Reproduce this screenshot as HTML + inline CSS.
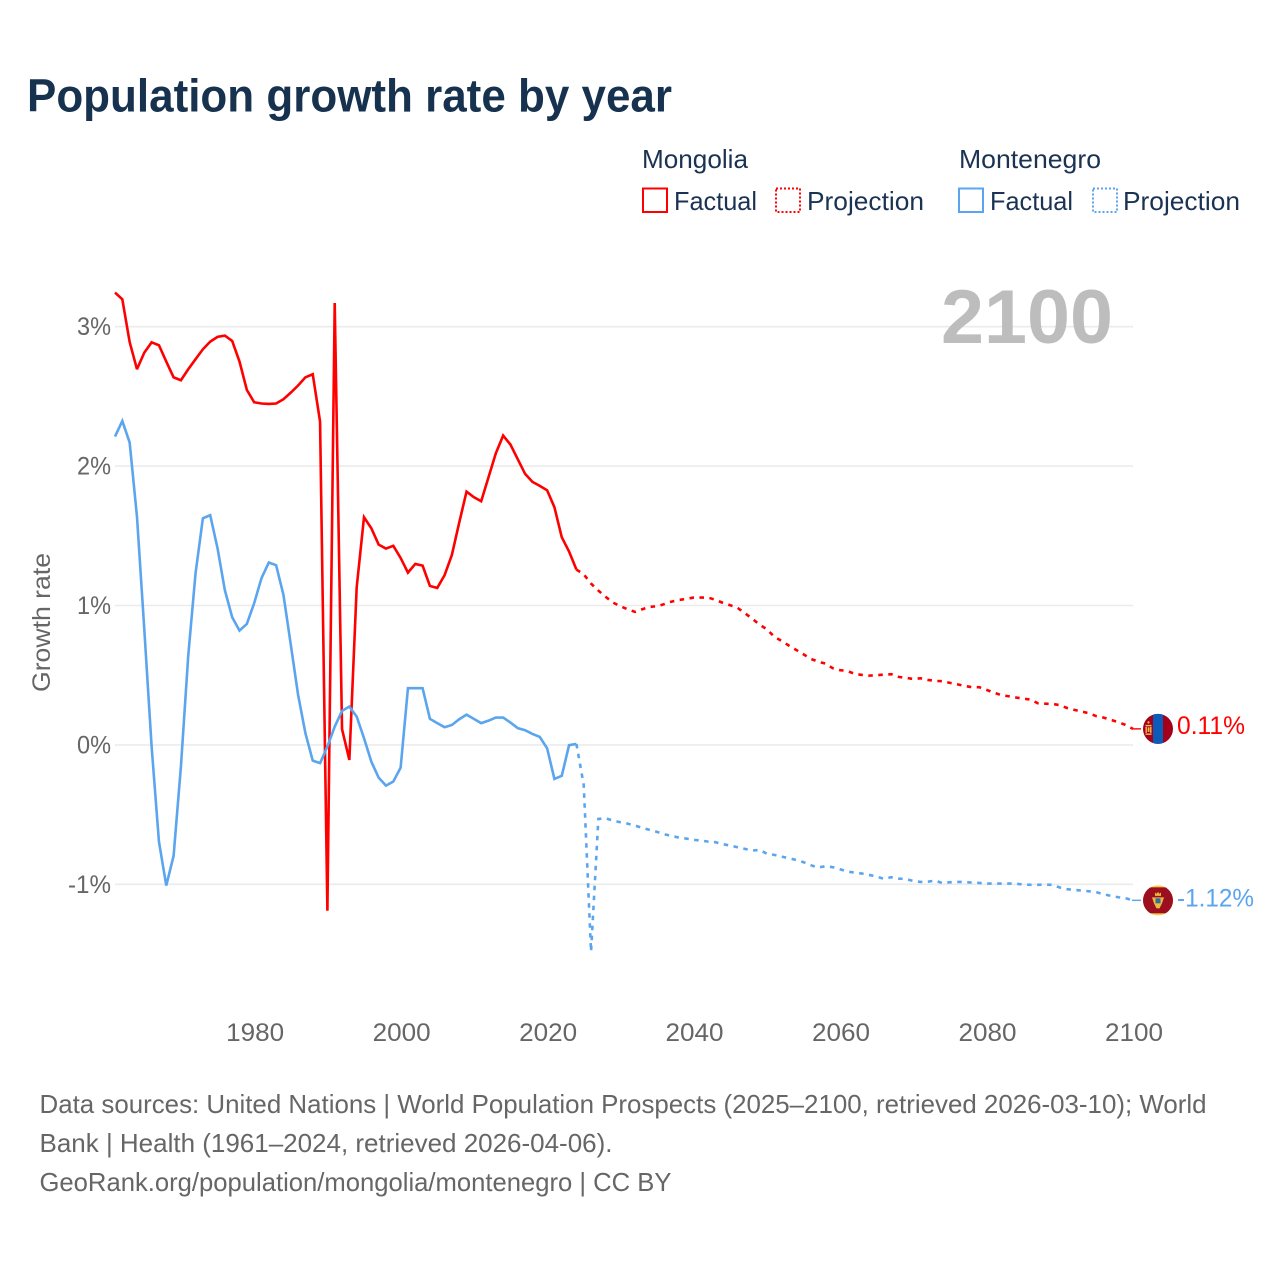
<!DOCTYPE html>
<html lang="en">
<head>
<meta charset="utf-8">
<title>Population growth rate by year</title>
<style>
html,body{margin:0;padding:0;background:#fff;width:1280px;height:1280px;overflow:hidden}
svg{display:block;font-family:"Liberation Sans",sans-serif}
</style>
</head>
<body>
<svg id="chart" xmlns="http://www.w3.org/2000/svg" width="1280" height="1280" viewBox="0 0 1280 1280">
  <rect x="0" y="0" width="1280" height="1280" fill="#fff"/>
  <text x="27" y="111.5" font-size="46" font-weight="700" fill="#17324f" textLength="645" lengthAdjust="spacingAndGlyphs">Population growth rate by year</text>

  <g font-size="26" fill="#1b3352">
    <text x="642" y="168" textLength="106" lengthAdjust="spacingAndGlyphs">Mongolia</text>
    <text x="959" y="168" textLength="142" lengthAdjust="spacingAndGlyphs">Montenegro</text>
    <rect x="643" y="188.5" width="24" height="23.5" fill="none" stroke="#ff0000" stroke-width="2"/>
    <text x="674" y="210" textLength="83" lengthAdjust="spacingAndGlyphs">Factual</text>
    <rect x="776" y="188.5" width="24" height="23.5" fill="none" stroke="#ff0000" stroke-width="2" stroke-dasharray="2 2"/>
    <text x="807" y="210" textLength="117" lengthAdjust="spacingAndGlyphs">Projection</text>
    <rect x="959" y="188.5" width="24" height="23.5" fill="none" stroke="#5ba5ef" stroke-width="2"/>
    <text x="990" y="210" textLength="83" lengthAdjust="spacingAndGlyphs">Factual</text>
    <rect x="1093" y="188.5" width="24" height="23.5" fill="none" stroke="#5ba5ef" stroke-width="2" stroke-dasharray="2 2"/>
    <text x="1123" y="210" textLength="117" lengthAdjust="spacingAndGlyphs">Projection</text>
  </g>

  <g id="grid"></g>
  <g id="yticks" font-size="25" fill="#666" text-anchor="end"></g>
  <g id="xticks" font-size="25" fill="#666" text-anchor="middle"></g>
  <text transform="translate(50 622.5) rotate(-90)" font-size="25" fill="#666" text-anchor="middle" textLength="139" lengthAdjust="spacingAndGlyphs">Growth rate</text>
  <text x="941" y="343" font-size="76" font-weight="700" fill="#bdbdbd" textLength="172" lengthAdjust="spacingAndGlyphs">2100</text>

  <g id="series"></g>

  <g id="flag-mongolia">
    <clipPath id="clip-mn"><circle cx="0" cy="0" r="15"/></clipPath>
    <g clip-path="url(#clip-mn)">
      <rect x="-15" y="-16" width="31" height="32" fill="#a4001c"/>
      <rect x="-5" y="-16" width="10" height="32" fill="#0b5cb8"/>
    </g>
    <g fill="#f2c04a">
      <circle cx="-9.5" cy="-6.5" r="1.1"/>
      <rect x="-12.5" y="-4" width="6" height="1.4"/>
      <rect x="-12.5" y="-2" width="1.4" height="6"/>
      <rect x="-7.9" y="-2" width="1.4" height="6"/>
      <rect x="-10.3" y="-1.5" width="1.8" height="4.5"/>
      <rect x="-12.5" y="4.6" width="6" height="1.4"/>
    </g>
  </g>
  <g id="flag-montenegro">
    <clipPath id="clip-me"><circle cx="0" cy="0" r="15"/></clipPath>
    <g clip-path="url(#clip-me)">
      <rect x="-16" y="-16" width="32" height="32" fill="#f4cf45"/>
      <rect x="-16" y="-13" width="32" height="26" fill="#9c0f20"/>
    </g>
    <g fill="#e9bb3c">
      <path d="M-3 -4.5 L-3 -8 L-1.5 -6.5 L0 -8.5 L1.5 -6.5 L3 -8 L3 -4.5 Z"/>
      <path d="M-6 -3 L6 -3 L4 3 L1.5 8 L-1.5 8 L-4 3 Z"/>
    </g>
    <rect x="-2.5" y="-2" width="5" height="5" fill="#2f6f9f"/>
  </g>
  <g id="endlabels" font-size="25"></g>

  <g font-size="26" fill="#666">
    <text x="39.5" y="1113" textLength="1167" lengthAdjust="spacingAndGlyphs">Data sources: United Nations | World Population Prospects (2025–2100, retrieved 2026-03-10); World</text>
    <text x="39.5" y="1152" textLength="573" lengthAdjust="spacingAndGlyphs">Bank | Health (1961–2024, retrieved 2026-04-06).</text>
    <text x="39.5" y="1191" textLength="632" lengthAdjust="spacingAndGlyphs">GeoRank.org/population/mongolia/montenegro | CC BY</text>
  </g>
</svg>
<script>
const factualStartYear = 1961;
const projectionStartYear = 2024;
const finalYear = 2100;

const mongoliaFactual = [3.245,3.197,2.89,2.695,2.814,2.888,2.867,2.75,2.637,2.616,2.695,2.767,2.838,2.893,2.927,2.936,2.898,2.75,2.547,2.458,2.449,2.446,2.449,2.48,2.527,2.578,2.637,2.659,2.32,-1.19,3.17,0.113,-0.108,1.13,1.633,1.554,1.437,1.408,1.428,1.341,1.236,1.298,1.286,1.14,1.126,1.217,1.363,1.595,1.817,1.777,1.748,1.92,2.092,2.219,2.154,2.049,1.944,1.887,1.858,1.827,1.705,1.49,1.387,1.258];

const mongoliaProjection = [1.258,1.224,1.157,1.107,1.062,1.021,0.995,0.973,0.954,0.973,0.99,0.995,1.01,1.028,1.04,1.047,1.057,1.057,1.057,1.04,1.019,1.002,0.983,0.945,0.906,0.863,0.83,0.777,0.746,0.713,0.682,0.65,0.617,0.598,0.583,0.55,0.536,0.531,0.509,0.502,0.497,0.5,0.504,0.507,0.488,0.481,0.473,0.478,0.466,0.459,0.457,0.445,0.435,0.423,0.414,0.414,0.395,0.375,0.357,0.349,0.34,0.332,0.325,0.299,0.296,0.294,0.285,0.265,0.251,0.239,0.227,0.206,0.196,0.179,0.163,0.143,0.115];

const montenegroFactual = [2.212,2.324,2.169,1.638,0.83,-0.012,-0.694,-1.009,-0.796,-0.156,0.64,1.232,1.626,1.648,1.411,1.11,0.916,0.82,0.868,1.016,1.196,1.308,1.289,1.076,0.72,0.359,0.084,-0.113,-0.131,-0.012,0.131,0.244,0.275,0.203,0.048,-0.12,-0.235,-0.292,-0.263,-0.163,0.407,0.407,0.407,0.187,0.156,0.127,0.143,0.184,0.217,0.187,0.156,0.174,0.196,0.196,0.16,0.12,0.105,0.079,0.057,-0.024,-0.244,-0.222,-0.002,0.007];

const montenegroProjection = [0.007,-0.287,-1.483,-0.531,-0.526,-0.543,-0.555,-0.565,-0.579,-0.595,-0.61,-0.624,-0.641,-0.653,-0.665,-0.672,-0.681,-0.686,-0.694,-0.698,-0.712,-0.722,-0.734,-0.746,-0.758,-0.753,-0.78,-0.789,-0.801,-0.813,-0.825,-0.841,-0.863,-0.88,-0.87,-0.877,-0.892,-0.909,-0.916,-0.923,-0.933,-0.945,-0.961,-0.949,-0.959,-0.963,-0.976,-0.983,-0.981,-0.973,-0.992,-0.985,-0.983,-0.983,-0.988,-0.99,-0.995,-0.995,-0.995,-0.995,-0.995,-1.002,-1.004,-1.004,-1.002,-1.004,-1.023,-1.035,-1.04,-1.045,-1.05,-1.057,-1.071,-1.083,-1.093,-1.1,-1.115];

const xTickYears = [1980,2000,2020,2040,2060,2080,2100];
const xTickLabels = ["1980","2000","2020","2040","2060","2080","2100"];
const yTickValues = [3,2,1,0,-1];
const yTickLabels = ["3%","2%","1%","0%","-1%"];
const mongoliaEndLabel = "0.11%";
const montenegroEndLabel = "-1.12%";

const NS = "http://www.w3.org/2000/svg";
const plotLeft = 115, plotRight = 1133;
const zeroY = 744.9, unitY = 139.4;
const RED = "#ff0000", BLUE = "#5ba5ef";

function xScale(year){
  return plotLeft + (year - factualStartYear) * (plotRight - plotLeft) / (finalYear - factualStartYear);
}
function yScale(value){
  return zeroY - value * unitY;
}
function make(tag, attrs){
  const el = document.createElementNS(NS, tag);
  for (const k in attrs) el.setAttribute(k, attrs[k]);
  return el;
}
function linePath(values, startYear){
  return values.map(function(v, i){
    return (i ? "L" : "M") + xScale(startYear + i).toFixed(2) + " " + yScale(v).toFixed(2);
  }).join(" ");
}

const grid = document.getElementById("grid");
const yticks = document.getElementById("yticks");
yTickValues.forEach(function(v, i){
  const line = make("line", {x1: plotLeft, x2: plotRight, y1: yScale(v), y2: yScale(v), stroke: "#ebebeb", "stroke-width": 1.6});
  
  
  grid.appendChild(line);
  const label = make("text", {x: 111, y: yScale(v) + 8.5, textLength: yTickLabels[i].length > 2 ? 43 : 34, lengthAdjust: "spacingAndGlyphs"});
  
  
  label.textContent = yTickLabels[i];
  yticks.appendChild(label);
});

const xticks = document.getElementById("xticks");
xTickYears.forEach(function(year, i){
  const label = make("text", {x: xScale(year) + 1, y: 1041, textLength: 58, lengthAdjust: "spacingAndGlyphs"});
  
  
  label.textContent = xTickLabels[i];
  xticks.appendChild(label);
});

const series = document.getElementById("series");
const lineWidth = 2.6;
const dashPattern = "4.5 5.5";

const mnFactualLine = make("path", {d: linePath(mongoliaFactual, factualStartYear), fill: "none", stroke: RED, "stroke-width": lineWidth, "stroke-linejoin": "miter", "stroke-miterlimit": 3});


series.appendChild(mnFactualLine);

const meFactualLine = make("path", {d: linePath(montenegroFactual, factualStartYear), fill: "none", stroke: BLUE, "stroke-width": lineWidth, "stroke-linejoin": "miter", "stroke-miterlimit": 3});


series.appendChild(meFactualLine);

const mnProjectionLine = make("path", {d: linePath(mongoliaProjection, projectionStartYear), fill: "none", stroke: RED, "stroke-width": lineWidth, "stroke-dasharray": dashPattern});


series.appendChild(mnProjectionLine);

const meProjectionLine = make("path", {d: linePath(montenegroProjection, projectionStartYear), fill: "none", stroke: BLUE, "stroke-width": lineWidth, "stroke-dasharray": dashPattern});


series.appendChild(meProjectionLine);

const mnEndY = yScale(mongoliaProjection[mongoliaProjection.length - 1]);
const meEndY = yScale(montenegroProjection[montenegroProjection.length - 1]);
const endX = xScale(finalYear);

const mnLeader = make("line", {x1: endX - 1, x2: endX + 8, y1: mnEndY, y2: mnEndY, stroke: RED, "stroke-width": 1.4});


series.appendChild(mnLeader);

const meLeader = make("line", {x1: endX - 1, x2: endX + 8, y1: meEndY, y2: meEndY, stroke: BLUE, "stroke-width": 1.4});


series.appendChild(meLeader);

document.getElementById("flag-mongolia").setAttribute("transform", "translate(" + (endX + 25) + " " + mnEndY + ")");
document.getElementById("flag-montenegro").setAttribute("transform", "translate(" + (endX + 25) + " " + meEndY + ")");

const endLabels = document.getElementById("endlabels");
const mnLabel = make("text", {x: endX + 44, y: mnEndY + 5, fill: RED, textLength: 68, lengthAdjust: "spacingAndGlyphs"});


mnLabel.textContent = mongoliaEndLabel;
endLabels.appendChild(mnLabel);

const meLabel = make("text", {x: endX + 44, y: meEndY + 6, fill: BLUE, textLength: 77, lengthAdjust: "spacingAndGlyphs"});


meLabel.textContent = montenegroEndLabel;
endLabels.appendChild(meLabel);
</script>
</body>
</html>
